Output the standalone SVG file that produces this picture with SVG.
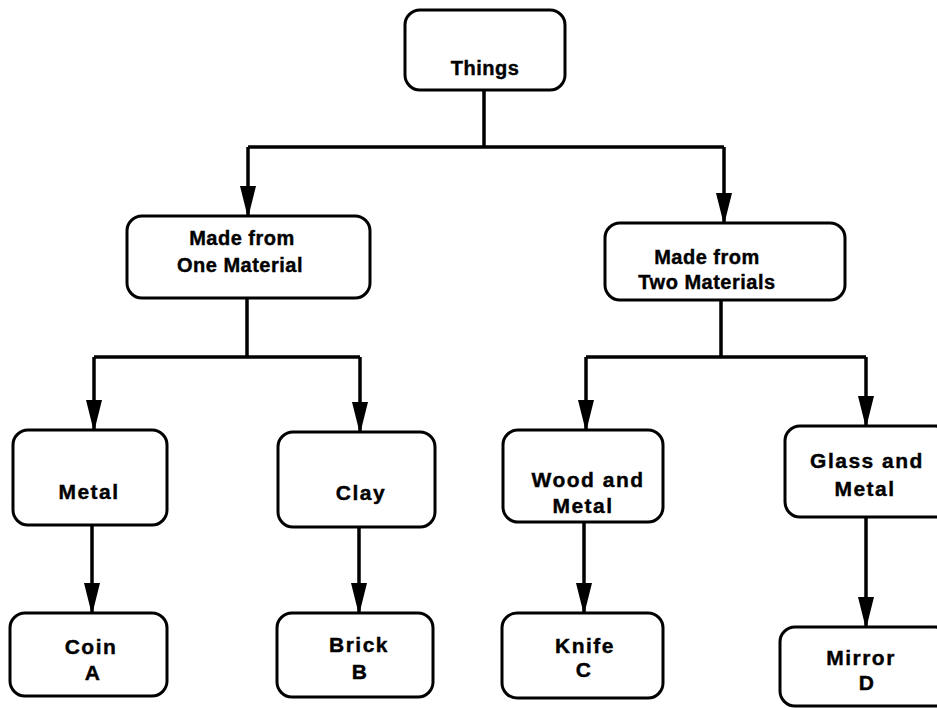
<svg xmlns="http://www.w3.org/2000/svg" width="937" height="708" viewBox="0 0 937 708">
<style>
.box{fill:#fff;stroke:#000;stroke-width:3}
.t{font-family:"Liberation Sans",Arial,sans-serif;font-weight:bold;font-size:20px;letter-spacing:0.5px;text-anchor:middle;fill:#000;stroke:#000;stroke-width:0.4}
.s{font-size:21px;letter-spacing:1.5px}
.c{fill:none;stroke:#000;stroke-width:3.5}
</style>
<defs>
<marker id="ah" markerUnits="userSpaceOnUse" markerWidth="32" markerHeight="16" refX="30" refY="8" orient="auto">
<path d="M0,0 L32,8 L0,16 z" fill="#000"/>
</marker>
</defs>
<g id="connectors">
<path class="c" d="M484,90 V147 M248,147 H724 M247,298 V357 M94,357 H360 M721,300 V357 M586,357 H866"/>
<path class="c" d="M248,147 V216" marker-end="url(#ah)"/>
<path class="c" d="M724,147 V223" marker-end="url(#ah)"/>
<path class="c" d="M94,357 V430" marker-end="url(#ah)"/>
<path class="c" d="M360,357 V432" marker-end="url(#ah)"/>
<path class="c" d="M586,357 V430" marker-end="url(#ah)"/>
<path class="c" d="M866,357 V426" marker-end="url(#ah)"/>
<path class="c" d="M92,525 V613" marker-end="url(#ah)"/>
<path class="c" d="M359,527 V613" marker-end="url(#ah)"/>
<path class="c" d="M584,522 V613" marker-end="url(#ah)"/>
<path class="c" d="M866,517 V627" marker-end="url(#ah)"/>
</g>
<g id="things"><rect class="box" x="405" y="10" width="160" height="80" rx="15"/><text class="t" x="485" y="75">Things</text></g>
<g id="one-material"><rect class="box" x="127" y="216" width="243" height="82" rx="15"/><text class="t" x="242" y="245">Made from</text><text class="t" x="240" y="272">One Material</text></g>
<g id="two-materials"><rect class="box" x="605" y="223" width="240" height="77" rx="15"/><text class="t" x="707" y="264">Made from</text><text class="t" x="707" y="289">Two Materials</text></g>
<g id="metal"><rect class="box" x="13" y="430" width="154" height="95" rx="15"/><text class="t s" x="89" y="499">Metal</text></g>
<g id="clay"><rect class="box" x="278" y="432" width="157" height="95" rx="15"/><text class="t s" x="361" y="500">Clay</text></g>
<g id="wood-metal"><rect class="box" x="503" y="430" width="160" height="92" rx="15"/><text class="t s" x="588" y="487">Wood and</text><text class="t s" x="583" y="513">Metal</text></g>
<g id="glass-metal"><rect class="box" x="785" y="426" width="165" height="91" rx="15"/><text class="t s" x="867" y="468">Glass and</text><text class="t s" x="865" y="496">Metal</text></g>
<g id="coin"><rect class="box" x="10" y="613" width="157" height="83" rx="15"/><text class="t s" x="91" y="654">Coin</text><text class="t s" x="93" y="680">A</text></g>
<g id="brick"><rect class="box" x="277" y="613" width="156" height="84" rx="15"/><text class="t s" x="359" y="652">Brick</text><text class="t s" x="360" y="679">B</text></g>
<g id="knife"><rect class="box" x="502" y="613" width="161" height="85" rx="15"/><text class="t s" x="585" y="653">Knife</text><text class="t s" x="584" y="677">C</text></g>
<g id="mirror"><rect class="box" x="780" y="627" width="170" height="79" rx="15"/><text class="t s" x="861" y="665">Mirror</text><text class="t s" x="867" y="690">D</text></g>
</svg>
